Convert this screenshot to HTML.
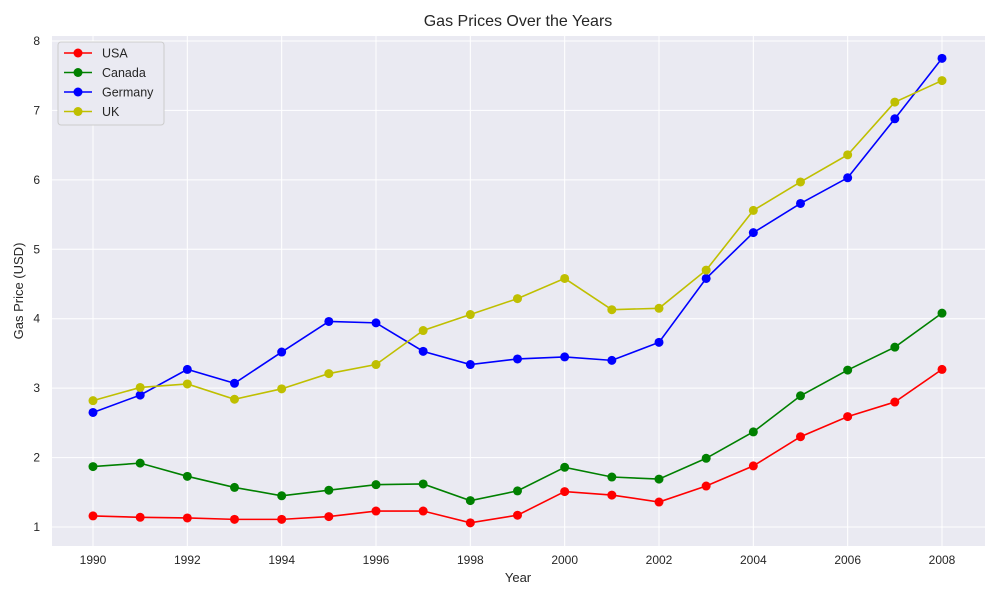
<!DOCTYPE html>
<html><head><meta charset="utf-8"><style>
body{margin:0;background:#fff;font-family:"Liberation Sans",sans-serif;}
svg text{font-family:"Liberation Sans",sans-serif;fill:#262626;}
</style></head><body>
<svg id="chart" width="1000" height="600" xmlns="http://www.w3.org/2000/svg">
<rect x="0" y="0" width="1000" height="600" fill="#fff"/>
<rect x="52" y="36" width="933" height="510" fill="#eaeaf2"/>
<g id="grid"></g><g id="ticks"></g><g id="series"></g>
<text x="518" y="26" text-anchor="middle" font-size="16">Gas Prices Over the Years</text>
<text x="518" y="582" text-anchor="middle" font-size="13">Year</text>
<text transform="translate(23,291) rotate(-90)" text-anchor="middle" font-size="13">Gas Price (USD)</text>
<g id="legend"></g>
</svg>
<script>
const years=[1990,1991,1992,1993,1994,1995,1996,1997,1998,1999,2000,2001,2002,2003,2004,2005,2006,2007,2008];
const usa=[1.16,1.14,1.13,1.11,1.11,1.15,1.23,1.23,1.06,1.17,1.51,1.46,1.36,1.59,1.88,2.30,2.59,2.80,3.27];
const canada=[1.87,1.92,1.73,1.57,1.45,1.53,1.61,1.62,1.38,1.52,1.86,1.72,1.69,1.99,2.37,2.89,3.26,3.59,4.08];
const germany=[2.65,2.90,3.27,3.07,3.52,3.96,3.94,3.53,3.34,3.42,3.45,3.40,3.66,4.58,5.24,5.66,6.03,6.88,7.75];
const uk=[2.82,3.01,3.06,2.84,2.99,3.21,3.34,3.83,4.06,4.29,4.58,4.13,4.15,4.70,5.56,5.97,6.36,7.12,7.43];
const xTicks=[1990,1992,1994,1996,1998,2000,2002,2004,2006,2008];
const yTicks=[1,2,3,4,5,6,7,8];
const seriesNames=["USA","Canada","Germany","UK"];
const seriesColors=["#ff0000","#008000","#0000ff","#bfbf00"];
const NS="http://www.w3.org/2000/svg";
const X=v=>93+(v-1990)*(942-93)/18;
const Y=v=>527-(v-1)*(527-41)/7;
function mk(t,a,p){const e=document.createElementNS(NS,t);for(const k in a)e.setAttribute(k,a[k]);p.appendChild(e);return e;}
const grid=document.getElementById('grid'),ticks=document.getElementById('ticks');
xTicks.forEach(v=>{
 const l=mk('line',{x1:X(v),x2:X(v),y1:36,y2:546,stroke:'#fff','stroke-width':1},grid);
 
 
 const t=mk('text',{x:X(v),y:564,'text-anchor':'middle','font-size':12},ticks);t.textContent=v;
 
 
});
yTicks.forEach(v=>{
 const l=mk('line',{x1:52,x2:985,y1:Y(v),y2:Y(v),stroke:'#fff','stroke-width':1},grid);
 
 
 const t=mk('text',{x:40,y:Y(v)+4,'text-anchor':'end','font-size':12},ticks);t.textContent=v;
 
 
});
const sg=document.getElementById('series');
[usa,canada,germany,uk].forEach((d,i)=>{
 const g=mk('g',{},sg);
 
 
 const pl=mk('polyline',{points:d.map((v,j)=>X(years[j])+','+Y(v)).join(' '),fill:'none',stroke:seriesColors[i],'stroke-width':1.6},g);
 
 
 d.forEach((v,j)=>{const c=mk('circle',{cx:X(years[j]),cy:Y(v),r:4.5,fill:seriesColors[i]},g);
  
  });
});
const lg=document.getElementById('legend');
mk('rect',{x:58,y:42,width:106,height:83,rx:3,fill:'#eaeaf2',stroke:'#ccc'},lg);
seriesNames.forEach((n,i)=>{
 const y=53+i*19.5;
 mk('line',{x1:64,x2:92,y1:y,y2:y,stroke:seriesColors[i],'stroke-width':1.6},lg);
 mk('circle',{cx:78,cy:y,r:4.5,fill:seriesColors[i]},lg);
 const t=mk('text',{x:102,y:y+4.5,'font-size':12.5},lg);t.textContent=n;
 
 
});
</script>
</body></html>
